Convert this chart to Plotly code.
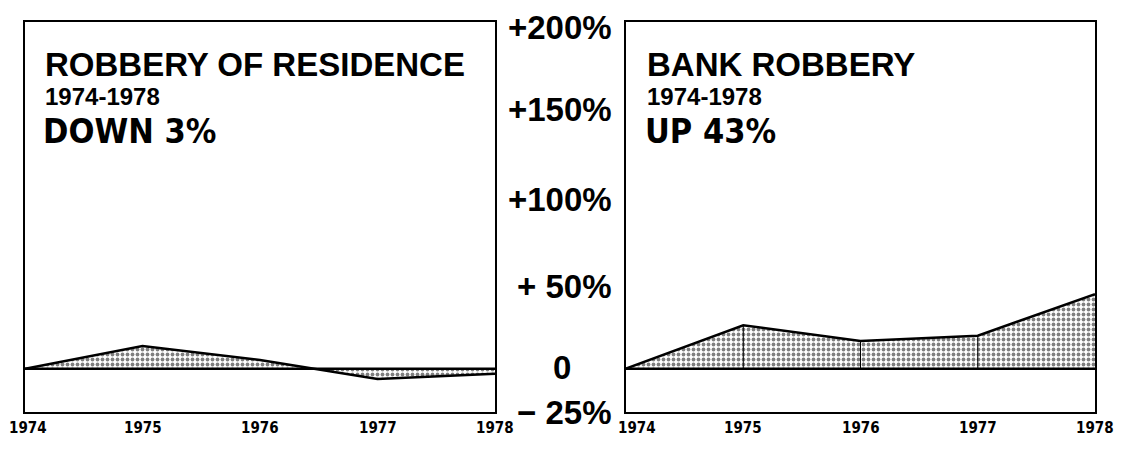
import plotly.graph_objects as go

years = [1974, 1975, 1976, 1977, 1978]
residence = [0, 13, 5, -6, -3]
bank = [0, 25, 16, 19, 43]
inner_years = [1975, 1976, 1977]
bank_inner = [25, 16, 19]

ytick_vals = [200, 150, 100, 50, 0, -25]
ytick_text = ["+200%", "+150%", "+100%", "+ 50%", "0", "− 25%"]
ytick_shift = [-5, -1, -4, -4, 1, 0]

panels = [
    dict(title="ROBBERY OF RESIDENCE", sub="1974-1978", change="DOWN 3%"),
    dict(title="BANK ROBBERY", sub="1974-1978", change="UP 43%"),
]

# page body has an 8px margin; work in reference pixel coords minus 8
OFF = 8
W, H = 1125 - OFF, 449 - OFF
bold = "Liberation Sans, Arial, sans-serif"
narrow = "DejaVu Sans Condensed, Liberation Sans Narrow, Arial Narrow, sans-serif"


def px(x):
    return (x - OFF) / W


def py(y):
    return 1 - (y - OFF) / H


pattern = dict(shape=".", fgcolor="black", bgcolor="white", size=5, solidity=0.45, fillmode="overlay")

fig = go.Figure()
for i, vals in enumerate([residence, bank]):
    xa = "x" if i == 0 else "x2"
    ya = "y" if i == 0 else "y2"
    fig.add_trace(go.Scatter(x=years, y=vals, mode="lines", fill="tozeroy",
                             fillcolor="white", fillpattern=pattern,
                             line=dict(color="black", width=2.5),
                             xaxis=xa, yaxis=ya, hoverinfo="skip"))
    fig.add_trace(go.Scatter(x=[years[0], years[-1]], y=[0, 0], mode="lines",
                             line=dict(color="black", width=2.5),
                             xaxis=xa, yaxis=ya, hoverinfo="skip"))

for yr, v in zip(inner_years, bank_inner):
    fig.add_trace(go.Scatter(x=[yr, yr], y=[0, v], mode="lines",
                             line=dict(color="black", width=1),
                             xaxis="x2", yaxis="y2", hoverinfo="skip"))

dom_y = [py(412), py(22)]
xdoms = [[px(25), px(495)], [px(626), px(1095)]]

axis_common = dict(showline=True, mirror=True, linecolor="black", linewidth=2,
                   showgrid=False, zeroline=False, automargin=False)
for i, dom in enumerate(xdoms):
    sfx = "" if i == 0 else "2"
    fig.update_layout(**{
        "xaxis" + sfx: dict(domain=dom, range=[1974, 1978], showticklabels=False,
                            ticks="", anchor="y" + sfx, **axis_common),
        "yaxis" + sfx: dict(domain=dom_y, range=[-25, 200], showticklabels=False,
                            ticks="", anchor="x" + sfx, **axis_common),
    })

ann = []
# year labels under each panel, placed on each panel's x scale
for i in range(2):
    xr = "x" if i == 0 else "x2"
    for j, yr in enumerate(years):
        shift = 0
        if j == 0:
            shift = 3 if i == 0 else 11
        ann.append(dict(x=yr, y=py(428), xref=xr, yref="paper", text="<b>%d</b>" % yr,
                        showarrow=False, xanchor="center", yanchor="middle", xshift=shift,
                        font=dict(family=narrow, size=15, color="black")))

left_x = [43, 645]
for i, p in enumerate(panels):
    ann.append(dict(x=px(left_x[i]), y=py(64), xref="paper", yref="paper",
                    text="<b>%s</b>" % p["title"], showarrow=False, xanchor="left",
                    yanchor="middle", font=dict(family=bold, size=33, color="black")))
    ann.append(dict(x=px(left_x[i]), y=py(96), xref="paper", yref="paper",
                    text="<b>%s</b>" % p["sub"], showarrow=False, xanchor="left",
                    yanchor="middle", font=dict(family=bold, size=24, color="black")))
    ann.append(dict(x=px(left_x[i] - 2), y=py(131), xref="paper", yref="paper",
                    text="<b>%s</b>" % p["change"], showarrow=False, xanchor="left",
                    yanchor="middle", font=dict(family=narrow, size=34, color="black")))

for v, t, s in zip(ytick_vals, ytick_text, ytick_shift):
    if v == 0:
        ann.append(dict(x=px(562), y=v, xref="paper", yref="y", text="<b>%s</b>" % t,
                        showarrow=False, xanchor="center", yanchor="middle", yshift=s,
                        font=dict(family=bold, size=33, color="black")))
    else:
        ann.append(dict(x=px(614), y=v, xref="paper", yref="y", text="<b>%s</b>" % t,
                        showarrow=False, xanchor="right", yanchor="middle", yshift=s,
                        font=dict(family=bold, size=33, color="black")))

fig.update_layout(width=W, height=H, margin=dict(l=0, r=0, t=0, b=0),
                  paper_bgcolor="white", plot_bgcolor="white", showlegend=False,
                  annotations=ann)

fig.write_html("out.html")
